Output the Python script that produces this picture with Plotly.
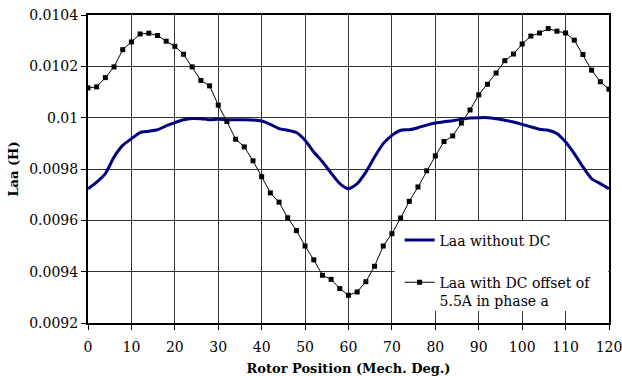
import plotly.graph_objects as go

# Rotor position (mech. deg.)
pos_dc = list(range(0, 121, 2))
laa_dc = [0.010116, 0.01012, 0.010156, 0.010198, 0.010265, 0.010295, 0.010326, 0.010329,
          0.01032, 0.010298, 0.010278, 0.010247, 0.010198, 0.010145, 0.010124, 0.010049,
          0.009985, 0.009916, 0.009886, 0.009832, 0.00977, 0.009707, 0.009671, 0.00961,
          0.00956, 0.0095, 0.009446, 0.009386, 0.00937, 0.009334, 0.009308, 0.009321,
          0.009361, 0.009421, 0.0095, 0.009548, 0.009609, 0.009674, 0.00973, 0.009793,
          0.009851, 0.009907, 0.009929, 0.009979, 0.01003, 0.010089, 0.01013, 0.010174,
          0.010222, 0.010248, 0.010287, 0.010318, 0.01033, 0.010347, 0.010337, 0.01033,
          0.010302, 0.010246, 0.010185, 0.01014, 0.010111]

pos_nodc = list(range(0, 121, 2))
laa_nodc = [0.009723, 0.009749, 0.009782, 0.009847, 0.009892, 0.009918, 0.009942, 0.009947,
            0.009953, 0.009968, 0.009981, 0.009992, 0.009997, 0.009996, 0.009992, 0.009994,
            0.009992, 0.009992, 0.009992, 0.009991, 0.009987, 0.009974, 0.009957, 0.009951,
            0.009942, 0.009912, 0.009866, 0.009828, 0.009784, 0.009743, 0.009723, 0.009743,
            0.009788, 0.009847, 0.009899, 0.009931, 0.009951, 0.009953, 0.009961, 0.009971,
            0.009979, 0.009984, 0.009988, 0.009994, 0.009999, 0.01, 0.01, 0.009996,
            0.00999, 0.009983, 0.009974, 0.009964, 0.009955, 0.009951, 0.009938, 0.009905,
            0.00986, 0.009808, 0.009762, 0.009743, 0.009723]

x_ticks = list(range(0, 121, 10))
y_ticks = [0.0092, 0.0094, 0.0096, 0.0098, 0.01, 0.0102, 0.0104]
y_tick_text = ["0.0092", "0.0094", "0.0096", "0.0098", "0.01", "0.0102", "0.0104"]

FONT = "DejaVu Serif"

fig = go.Figure()
fig.add_trace(go.Scatter(
    x=pos_nodc, y=laa_nodc, mode="lines", name="Laa without DC",
    line=dict(color="#000080", width=3, shape="spline", smoothing=0.6),
    legendgroup="a"))
fig.add_trace(go.Scatter(
    x=pos_dc, y=laa_dc, mode="lines+markers", name="Laa with DC offset of<br>5.5A in phase a",
    line=dict(color="black", width=1),
    marker=dict(symbol="square", size=5, color="black"),
    legendgroup="b"))

fig.update_layout(
    width=622, height=376,
    margin=dict(l=88, r=13, t=15, b=53),
    paper_bgcolor="white", plot_bgcolor="white",
    font=dict(family=FONT, size=14, color="black"),
    showlegend=True,
    legend=dict(x=0.598, xanchor="left", y=0.32, yanchor="top",
                bgcolor="rgba(0,0,0,0)", borderwidth=0,
                font=dict(family=FONT, size=14, color="black"),
                traceorder="grouped", tracegroupgap=21, valign="top"),
    shapes=[dict(type="rect", xref="x", yref="y", x0=70.6, x1=119.8,
                 y0=0.009247, y1=0.009597, fillcolor="white",
                 line=dict(width=0), layer="between")],
)
fig.update_xaxes(
    range=[0, 120], tickvals=x_ticks, showgrid=True, gridcolor="#333", gridwidth=1,
    showline=True, linecolor="black", linewidth=2, mirror=True,
    ticks="outside", ticklen=5, tickcolor="black", zeroline=False, automargin=False,
    ticklabeloverflow="allow", ticklabelstandoff=5,
    tickfont=dict(family=FONT, size=14),
    title=dict(text="<b>Rotor Position (Mech. Deg.)</b>", standoff=10,
               font=dict(family=FONT, size=13)))
fig.update_yaxes(
    range=[0.0092, 0.0104], tickvals=y_ticks, ticktext=y_tick_text,
    showgrid=True, gridcolor="#333", gridwidth=1,
    showline=True, linecolor="black", linewidth=2, mirror=True,
    ticks="outside", ticklen=5, tickcolor="black", zeroline=False, automargin=False,
    ticklabeloverflow="allow",
    tickfont=dict(family=FONT, size=14),
    title=dict(text="<b>Laa (H)</b>", standoff=8,
               font=dict(family=FONT, size=13)))

fig.write_html("out.html", config={"displayModeBar": False},
               post_script="document.body.style.margin='0';")
